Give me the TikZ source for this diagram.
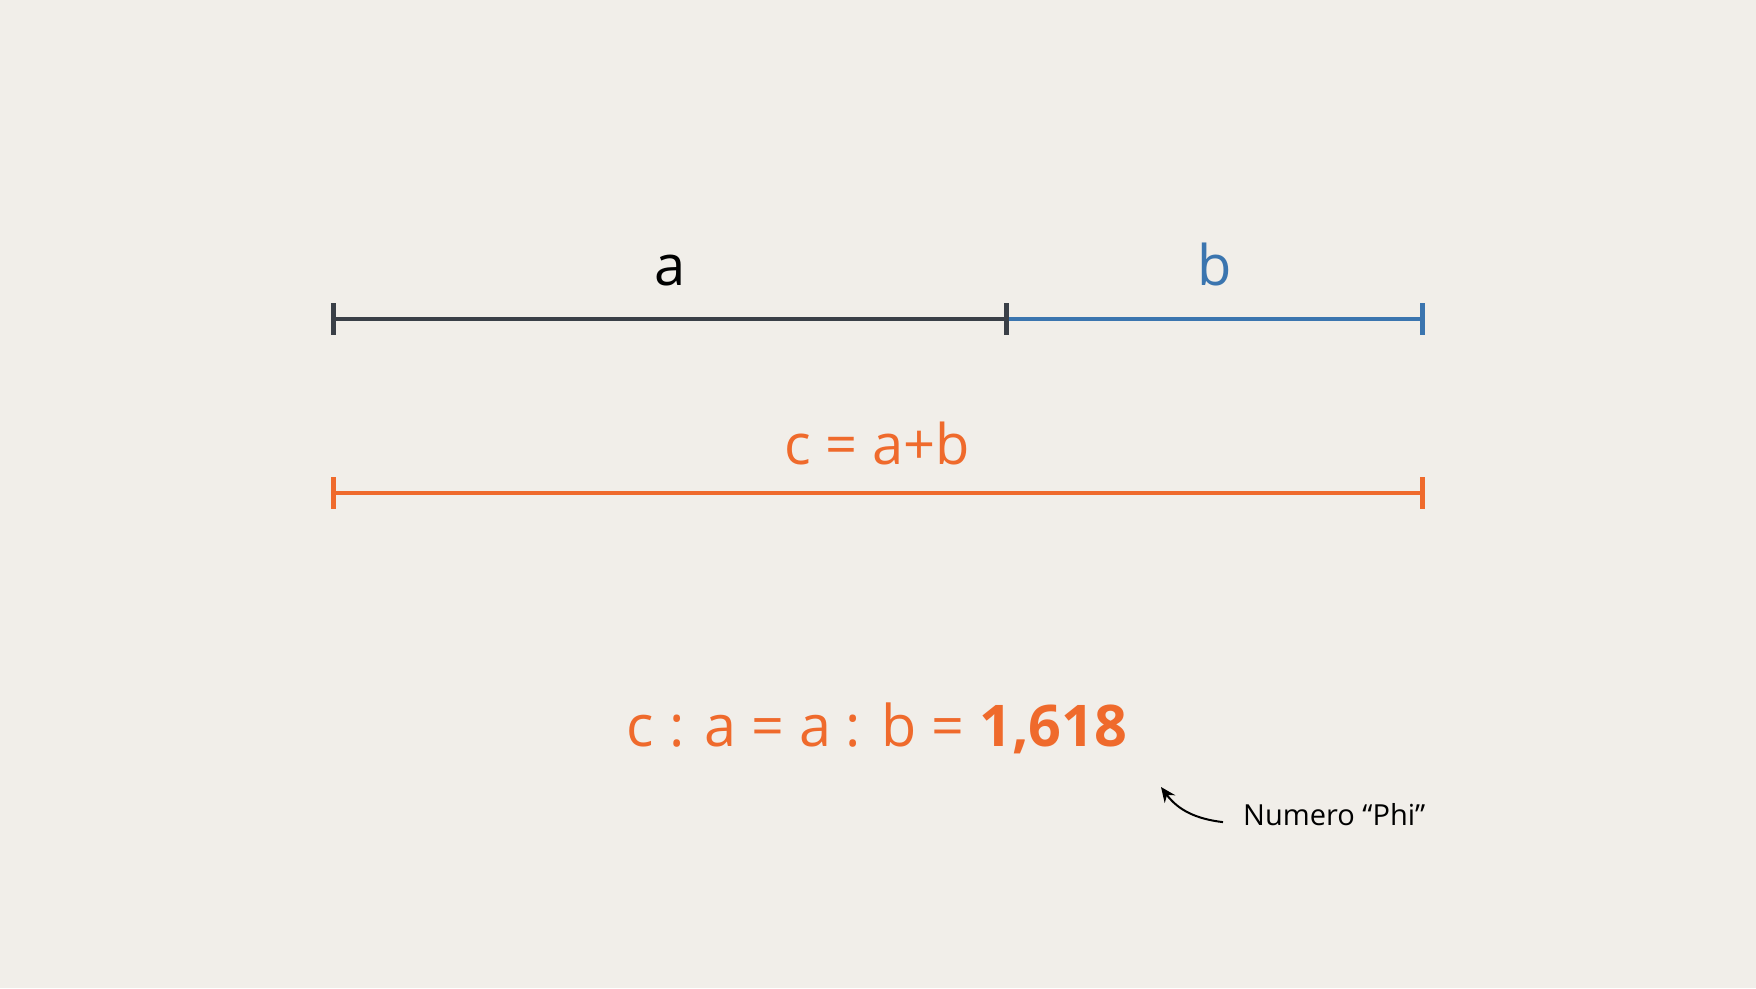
\documentclass[tikz,border=0pt]{standalone}
\usepackage{fontspec}
\setmainfont{Open Sans}
\usetikzlibrary{arrows.meta}
\definecolor{bgc}{HTML}{F1EEE9}
\definecolor{darkl}{HTML}{3A3F47}
\definecolor{bluel}{HTML}{3B75AF}
\definecolor{orng}{HTML}{EF6A2C}
\begin{document}
\begin{tikzpicture}[x=1pt,y=-1pt,
  seg/.style={line width=4.5pt},
  tick/.style={line width=5pt},
  lbl/.style={inner sep=0pt,anchor=base,font=\fontsize{56}{60}\selectfont},
  note/.style={inner sep=0pt,anchor=base west,font=\fontsize{29}{33}\selectfont}]
\fill[bgc] (0,0) rectangle (1756,988);
\useasboundingbox (0,0) rectangle (1756,988);
% coordinates
\coordinate (A0) at (333,319);
\coordinate (A1) at (1006,319);
\coordinate (B1) at (1422,319);
\coordinate (C0) at (333,493);
\coordinate (C1) at (1422,493);
% segment a
\draw[seg,darkl] (A0) -- (A1);
\draw[tick,darkl] ([yshift=16pt]A0) -- ([yshift=-16pt]A0);
% segment b
\draw[seg,bluel] (A1) -- (B1);
\draw[tick,darkl] ([yshift=16pt]A1) -- ([yshift=-16pt]A1);
\draw[tick,bluel] ([yshift=16pt]B1) -- ([yshift=-16pt]B1);
% segment c
\draw[seg,orng] (C0) -- (C1);
\draw[tick,orng] ([yshift=16pt]C0) -- ([yshift=-16pt]C0);
\draw[tick,orng] ([yshift=16pt]C1) -- ([yshift=-16pt]C1);
% labels
\node[lbl,text=black] (la) at (670,285) {a};
\node[lbl,text=bluel] (lb) at (1215,285) {b};
\node[lbl,text=orng] (lc) at (877,464) {c = a+b};
\node[lbl,text=orng,font=\fontsize{57.5}{62}\selectfont] (formula) at (877,746) {c : a = a : b = \textbf{1,618}};
% note
\node[note] (phi) at (1243,825) {Numero “Phi”};
\coordinate (tip) at (1161,787);
\draw[-{Stealth[length=15pt,width=13pt]},line width=2pt] ([xshift=-20pt,yshift=-8pt]phi.west) .. controls (1196,819) and (1178,810) .. (tip);
\end{tikzpicture}
\end{document}
